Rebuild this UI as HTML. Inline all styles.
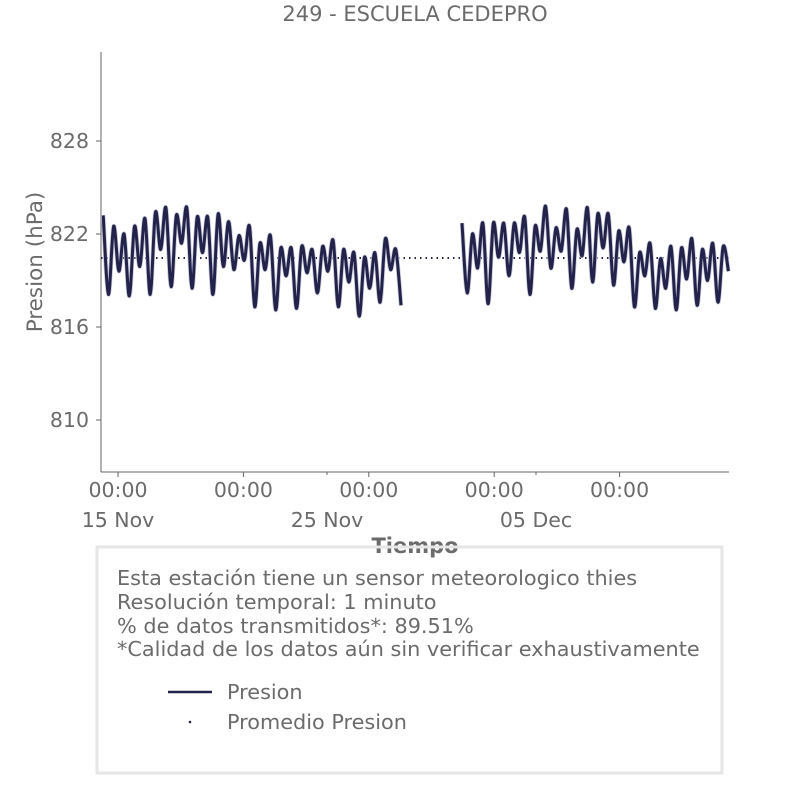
<!DOCTYPE html>
<html><head><meta charset="utf-8"><style>
body{margin:0;background:#fff;}
svg text{font-family:"DejaVu Sans","Liberation Sans",sans-serif;fill:#6b6b6b;}
</style></head><body>
<svg id="chart" width="806" height="806" viewBox="0 0 806 806" xmlns="http://www.w3.org/2000/svg">
<rect width="806" height="806" fill="#fff"/>
<text x="415" y="21" font-size="21" text-anchor="middle">249 - ESCUELA CEDEPRO</text>
<g id="plot"></g>
<text transform="translate(42,262) rotate(-90)" font-size="21.5" text-anchor="middle">Presion (hPa)</text>
<text x="415" y="553" font-size="21" font-weight="bold" text-anchor="middle">Tiempo</text>
<rect x="97" y="547" width="625" height="226" fill="none" stroke="#e6e6e6" stroke-width="3"/>
<g font-size="20.8">
<text x="117" y="585">Esta estación tiene un sensor meteorologico thies</text>
<text x="117" y="609">Resolución temporal: 1 minuto</text>
<text x="117" y="633">% de datos transmitidos*: 89.51%</text>
<text x="117" y="656">*Calidad de los datos aún sin verificar exhaustivamente</text>
</g>
<g>
<line x1="168" y1="692" x2="212" y2="692" stroke="#22224a" stroke-width="2.5"/>
<text x="227" y="699" font-size="20.8">Presion</text>
<circle cx="190" cy="722" r="1.3" fill="#22224a"/>
<text x="227" y="729" font-size="20.8">Promedio Presion</text>
</g>
</svg>
<script>
const yTicks=[810,816,822,828];
const xTickHours=[0,144,288,432,576];
const xTickLabels=["00:00","00:00","00:00","00:00","00:00"];
const dateHours=[0,240,480];
const dateLabels=["15 Nov","25 Nov","05 Dec"];
const meanPressure=820.45;
const seg1Start=-17, seg2Start=395, stepHours=6;
const seg1Values=[823.2,818.1,822.5,819.6,822.0,818.0,822.5,819.9,823.0,818.1,823.4,821.0,823.7,818.6,823.2,821.4,823.7,818.5,823.1,820.8,823.1,818.1,823.3,819.9,822.8,819.7,821.9,820.3,822.5,817.3,821.4,819.7,821.9,817.1,821.1,819.3,821.1,817.2,821.2,819.5,821.0,818.2,821.2,819.6,821.6,817.3,821.0,818.9,820.8,816.7,820.5,818.5,820.8,817.6,821.7,819.7,821.0,817.4];
const seg2Values=[822.7,818.2,822.0,819.8,822.7,817.5,822.7,820.5,822.7,819.3,822.7,820.8,823.1,818.1,822.5,820.9,823.8,819.8,822.4,820.9,823.6,818.5,822.3,820.6,823.7,818.9,823.3,821.1,823.3,818.7,822.2,820.2,822.4,817.3,820.8,819.3,821.4,817.2,820.4,818.5,821.2,817.1,821.1,819.1,821.7,817.4,821.0,819.0,821.4,817.6,821.2,819.6];

const NS="http://www.w3.org/2000/svg";
const X0=101,X1=729,Y0=52,Y1=472;
const xs=h=>118+h*(20.9/24);
const ys=v=>234-(v-822)*15.5;
const g=document.getElementById('plot');
function mk(t,a){const e=document.createElementNS(NS,t);for(const k in a)e.setAttribute(k,a[k]);g.appendChild(e);return e;}

let sp=mk('line',{x1:X0,y1:Y0,x2:X0,y2:Y1,stroke:'#666','stroke-width':1});


sp=mk('line',{x1:X0,y1:Y1,x2:X1,y2:Y1,stroke:'#666','stroke-width':1});



yTicks.forEach(v=>{
 const t=mk('line',{x1:X0-5,y1:ys(v),x2:X0,y2:ys(v),stroke:'#666'});
 
 
 const l=mk('text',{x:X0-12,y:ys(v)+7,'font-size':20.5,'text-anchor':'end'});l.textContent=v;
 
 
});
xTickHours.forEach((h,i)=>{
 const t=mk('line',{x1:xs(h),y1:Y1,x2:xs(h),y2:Y1+5,stroke:'#666'});
 
 
 const l=mk('text',{x:xs(h),y:497,'font-size':20.5,'text-anchor':'middle'});l.textContent=xTickLabels[i];
 
 
});
dateHours.forEach((h,i)=>{
 const t=mk('line',{x1:xs(h),y1:Y1,x2:xs(h),y2:Y1+3,stroke:'#666'});
 
 
 const l=mk('text',{x:xs(h),y:527,'font-size':20.5,'text-anchor':'middle'});l.textContent=dateLabels[i];
 
 
});

const ml=mk('line',{x1:X0,y1:ys(meanPressure),x2:X1,y2:ys(meanPressure),stroke:'#22224a','stroke-width':2,'stroke-dasharray':'1.5 4'});



function pathFor(start,vals){
 const p=vals.map((v,i)=>[xs(start+i*stepHours),ys(v)]);
 let d='M'+p[0][0]+','+p[0][1];
 for(let i=0;i<p.length-1;i++){
  const a=p[i-1]||p[i],b=p[i],c=p[i+1],e=p[i+2]||c;
  d+=' C'+(b[0]+(c[0]-a[0])/6)+','+(b[1]+(c[1]-a[1])/6)+' '+(c[0]-(e[0]-b[0])/6)+','+(c[1]-(e[1]-b[1])/6)+' '+c[0]+','+c[1];
 }
 return d;
}
[[seg1Start,seg1Values],[seg2Start,seg2Values]].forEach(([s,v],i)=>{
 const h=mk('path',{d:pathFor(s,v),fill:'none',stroke:'#c8c8d8','stroke-width':4.5,'stroke-linejoin':'round'});
 
 
 const l=mk('path',{d:pathFor(s,v),fill:'none',stroke:'#22224a','stroke-width':3,'stroke-linejoin':'round'});
 
 
});
</script>
</body></html>
